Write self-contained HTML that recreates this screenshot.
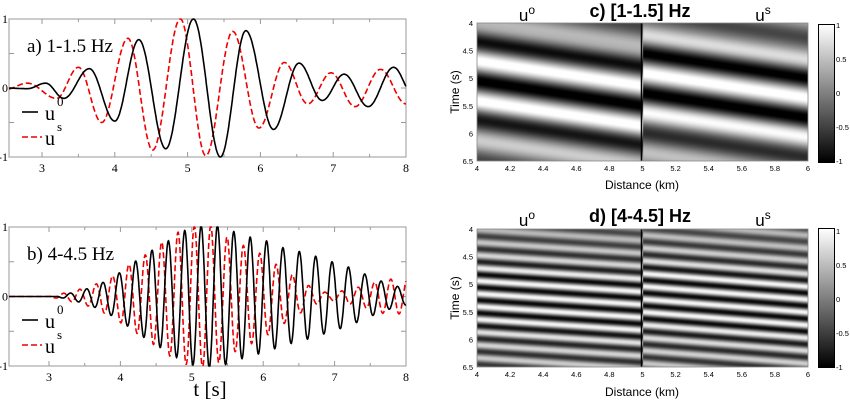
<!DOCTYPE html><html><head><meta charset="utf-8"><style>
body{margin:0;background:#fff;width:850px;height:403px;overflow:hidden;position:relative;font-family:"Liberation Sans",sans-serif}
canvas{position:absolute}
</style></head><body>
<svg id="s" width="850" height="403" style="position:absolute;left:0;top:0" xmlns="http://www.w3.org/2000/svg"></svg>
<canvas id="c1" width="331" height="138" style="left:477px;top:23px"></canvas>
<canvas id="c2" width="331" height="138" style="left:477px;top:229px"></canvas>
<canvas id="cb1" width="15" height="137" style="left:819px;top:25px;outline:1px solid #000"></canvas>
<canvas id="cb2" width="15" height="138" style="left:819px;top:229px;outline:1px solid #000"></canvas>
<svg width="850" height="403" style="position:absolute;left:0;top:0" xmlns="http://www.w3.org/2000/svg" font-family="Liberation Sans, sans-serif">
<line x1="641.5" y1="23" x2="641.5" y2="161" stroke="#000" stroke-width="1.5"/>
<line x1="641.5" y1="229" x2="641.5" y2="367" stroke="#000" stroke-width="1.5"/>
<rect x="477" y="23" width="331" height="138" fill="none" stroke="#888" stroke-width="0.8"/>
<rect x="477" y="229" width="331" height="138" fill="none" stroke="#888" stroke-width="0.8"/>
<g font-size="18" text-anchor="middle" font-weight="bold"><text x="640" y="17">c) [1-1.5] Hz</text><text x="640" y="222">d) [4-4.5] Hz</text></g>
<g font-size="17" text-anchor="middle"><text x="527" y="21">u<tspan dy="-7" font-size="12">o</tspan></text><text x="763" y="21">u<tspan dy="-7" font-size="12">s</tspan></text>
<text x="527" y="226">u<tspan dy="-7" font-size="12">o</tspan></text><text x="763" y="226">u<tspan dy="-7" font-size="12">s</tspan></text></g>
<g font-size="12" text-anchor="middle"><text x="642" y="189">Distance (km)</text><text x="642" y="396">Distance (km)</text>
<text transform="translate(459,92) rotate(-90)">Time (s)</text><text transform="translate(459,298) rotate(-90)">Time (s)</text></g>
<g id="rt" font-size="7.5"></g>
<g font-family="Liberation Serif, serif" font-size="21" text-anchor="middle"><text x="210" y="396">t [s]</text></g>
</svg>
<script>
const S=document.getElementById('s'),NS='http://www.w3.org/2000/svg';
function el(t,a,txt){const e=document.createElementNS(NS,t);for(const k in a)e.setAttribute(k,a[k]);if(txt!==undefined)e.textContent=txt;S.appendChild(e);return e;}
function ex(list){return t=>{if(t<=list[0][0])return list[0][1];for(let i=0;i<list.length-1;i++){const a=list[i],b=list[i+1];if(t<=b[0]){const u=(t-a[0])/(b[0]-a[0]);return a[1]+(b[1]-a[1])*(1-Math.cos(Math.PI*u))/2;}}return list[list.length-1][1];};}
function lin(list){return t=>{if(t<=list[0][0])return list[0][1];for(let i=0;i<list.length-1;i++){const a=list[i],b=list[i+1];if(t<=b[0])return a[1]+(b[1]-a[1])*(t-a[0])/(b[0]-a[0]);}return list[list.length-1][1];};}
function panel(y0,y1,t0,x3,x8,fb,fr,lab){
 const x0=9,x1=406,k=(x8-x3)/5,X=t=>x3+(t-3)*k,Y=v=>(y0+y1)/2-v*(y1-y0)/2;
 el('rect',{x:x0,y:y0,width:x1-x0,height:y1-y0,fill:'none',stroke:'#999','stroke-width':1});
 for(let t=3;t<=8;t+=0.5){const x=X(t),l=(t%1==0)?5:3;el('line',{x1:x,y1:y1,x2:x,y2:y1-l,stroke:'#999'});el('line',{x1:x,y1:y0,x2:x,y2:y0+l,stroke:'#999'});
  if(t%1==0)el('text',{x:x,y:y1+15,'font-size':12,'text-anchor':'middle','font-family':'Liberation Serif,serif'},t);}
 for(const v of[-0.5,0,0.5]){el('line',{x1:x0,y1:Y(v),x2:x0+5,y2:Y(v),stroke:'#999'});el('line',{x1:x1,y1:Y(v),x2:x1-5,y2:Y(v),stroke:'#999'});}
 [[1,'1'],[0,'0'],[-1,'-1']].forEach(([v,s])=>el('text',{x:8,y:Y(v)+4,'font-size':12,'text-anchor':'end','font-family':'Liberation Serif,serif'},s));
 const tl=(x0-x3)/k+3;
 function path(f){let d='';for(let t=tl;t<=8;t+=0.004){d+=(d?'L':'M')+X(t).toFixed(1)+','+Y(Math.max(-1,Math.min(1,f(t)))).toFixed(1);}return d;}
 el('path',{d:path(fr),fill:'none',stroke:'#e00','stroke-width':1.6,'stroke-dasharray':'6,3'});
 el('path',{d:path(fb),fill:'none',stroke:'#000','stroke-width':1.6});
 el('text',{x:27,y:y0+33,'font-size':19,'font-family':'Liberation Serif,serif'},lab);
 const ly=y0+93;
 el('line',{x1:22,y1:ly,x2:38,y2:ly,stroke:'#000','stroke-width':1.6});
 el('text',{x:45,y:ly+8,'font-size':20,'font-family':'Liberation Serif,serif'},'u');
 el('text',{x:57,y:ly-6,'font-size':13,'font-family':'Liberation Serif,serif'},'0');
 el('line',{x1:22,y1:ly+25,x2:42,y2:ly+25,stroke:'#e00','stroke-width':1.6,'stroke-dasharray':'6,3'});
 el('text',{x:45,y:ly+33,'font-size':20,'font-family':'Liberation Serif,serif'},'u');
 el('text',{x:57,y:ly+19,'font-size':13,'font-family':'Liberation Serif,serif'},'s');
}
const ab=ex([[2.5,0],[2.8,-0.01],[3.05,0.07],[3.3,-0.15],[3.65,0.28],[4.0,-0.48],[4.33,0.7],[4.7,-0.88],[5.08,1],[5.45,-1],[5.8,0.83],[6.18,-0.6],[6.53,0.36],[6.85,-0.18],[7.15,0.2],[7.48,-0.27],[7.83,0.3],[8.1,-0.1]]);
const ar=ex([[2.5,-0.02],[2.8,0.07],[3.2,-0.15],[3.5,0.3],[3.82,-0.5],[4.18,0.72],[4.52,-0.9],[4.9,1],[5.25,-0.98],[5.62,0.82],[5.98,-0.58],[6.33,0.37],[6.65,-0.23],[6.97,0.22],[7.3,-0.27],[7.65,0.27],[8.0,-0.23]]);
panel(19,157,2.55,42,406,ab,ar,'a) 1-1.5 Hz');
const eb=lin([[2.4,0],[3.1,0],[3.3,0.05],[3.5,0.1],[3.75,0.2],[4,0.35],[4.2,0.5],[4.45,0.67],[4.67,0.8],[4.9,0.95],[5.13,1.02],[5.37,1.02],[5.6,0.93],[5.83,0.85],[6.05,0.8],[6.28,0.7],[6.5,0.65],[6.73,0.58],[6.96,0.5],[7.18,0.43],[7.41,0.33],[7.63,0.23],[7.86,0.15],[8,0.12]]);
const er=lin([[2.4,0],[3.0,0],[3.3,0.07],[3.6,0.15],[3.9,0.3],[4.1,0.45],[4.35,0.6],[4.6,0.8],[4.85,0.95],[5.05,1.02],[5.3,1.02],[5.5,0.85],[5.75,0.72],[6.0,0.6],[6.2,0.45],[6.4,0.32],[6.65,0.15],[6.9,0.05],[7.1,0.08],[7.4,0.15],[7.7,0.25],[8,0.25]]);
panel(227,366,2.44,49,406,t=>eb(t)*Math.cos(2*Math.PI*4.36*(t-5.13)),t=>er(t)*Math.cos(2*Math.PI*4.36*(t-5.265)),'b) 4-4.5 Hz');
function heat(id,f){const c=document.getElementById(id),g=c.getContext('2d'),W=c.width,H=c.height,im=g.createImageData(W,H);
 for(let j=0;j<H;j++)for(let i=0;i<W;i++){const x=4+2*i/W,t=4+2.5*j/H;let v=Math.max(-1,Math.min(1,f(x,t)));const g8=Math.round(127.5+127.5*v),p=4*(j*W+i);im.data[p]=im.data[p+1]=im.data[p+2]=g8;im.data[p+3]=255;}
 g.putImageData(im,0,0);}
const ec=lin([[4,0.45],[4.3,0.9],[4.6,1.1],[5.5,1.1],[5.9,0.7],[6.5,0.45]]);
heat('c1',(x,t)=>{if(x<5){const tt=t-0.45*(x-4);return ec(tt)*Math.cos(2*Math.PI*1.38*(tt-4.68));}const tt=t-0.45*(x-5);return ec(tt)*Math.cos(2*Math.PI*1.38*(tt-4.9));});
const ed=lin([[4,0.45],[4.5,0.7],[4.8,0.95],[5.6,0.95],[6.0,0.7],[6.5,0.55]]);
heat('c2',(x,t)=>{if(x<5){const tt=t-0.2*(x-4);return ed(tt)*Math.cos(2*Math.PI*4.3*(tt-4.0));}const tt=t-0.24*(x-5);return ed(tt)*Math.cos(2*Math.PI*4.3*(tt-4.1));});
['cb1','cb2'].forEach(id=>{const c=document.getElementById(id),g=c.getContext('2d'),gr=g.createLinearGradient(0,0,0,c.height);gr.addColorStop(0,'#fff');gr.addColorStop(1,'#000');g.fillStyle=gr;g.fillRect(0,0,c.width,c.height);});
const R=document.getElementById('rt');
function rt(x,y,s,a){const e=document.createElementNS(NS,'text');e.setAttribute('x',x);e.setAttribute('y',y);if(a)e.setAttribute('text-anchor',a);e.textContent=s;R.appendChild(e);}
[23,229].forEach(top=>{const H=138;['4','4.5','5','5.5','6','6.5'].forEach((s,i)=>rt(473,top+i*H/5+3,s,'end'));
 ['4','4.2','4.4','4.6','4.8','5','5.2','5.4','5.6','5.8','6'].forEach((s,i)=>rt(477+i*33.1,top+H+10,s,'middle'));
 ['1','0.5','0','-0.5','-1'].forEach((s,i)=>rt(836,top+2+i*34+3,s));});
</script>
</body></html>
